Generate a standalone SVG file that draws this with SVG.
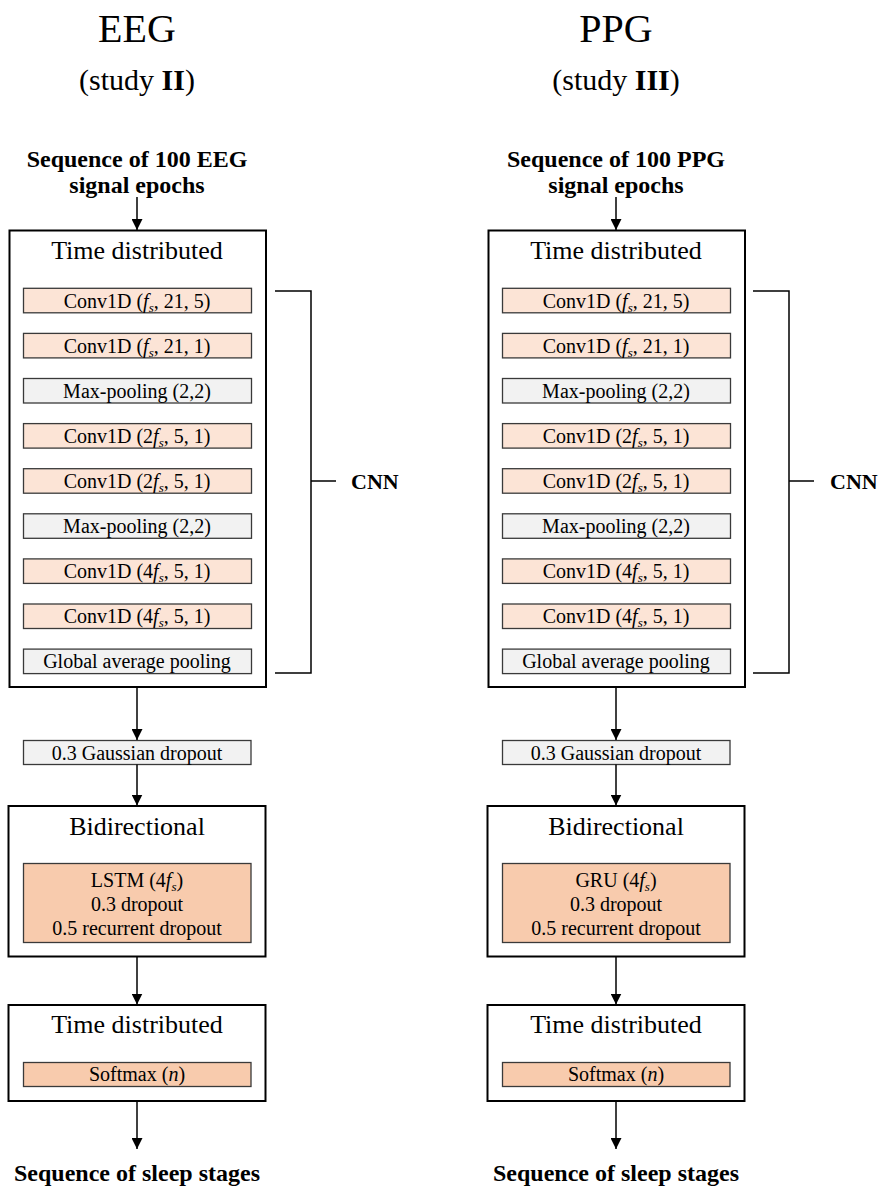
<svg xmlns="http://www.w3.org/2000/svg" width="880" height="1187" viewBox="0 0 880 1187">
  <style>
    text { font-family: "Liberation Serif", "Times New Roman", serif; fill: #000; text-anchor: middle; }
    .title { font-size: 40px; }
    .study { font-size: 30px; }
    .io { font-size: 24px; font-weight: bold; }
    .head { font-size: 26px; }
    .lbl { font-size: 20px; }
    .cnn { font-size: 22px; font-weight: bold; text-anchor: start; }
    .outer { fill: #fff; stroke: #000; stroke-width: 2; }
    .conv { fill: #FCE4D6; stroke: #3a3a3a; stroke-width: 1.3; }
    .pool { fill: #F2F2F2; stroke: #3a3a3a; stroke-width: 1.3; }
    .rnn { fill: #F8CBAD; stroke: #3a3a3a; stroke-width: 1.3; }
    .wire { fill: none; stroke: #000; stroke-width: 1.5; }
    .brace { fill: none; stroke: #000; stroke-width: 1.5; }
    .it { font-style: italic; }
    .sub { font-style: italic; font-size: 13px; }
  </style>
  <defs>
    <marker id="arrow" viewBox="0 0 10 10" refX="10" refY="5" markerWidth="11" markerHeight="11" markerUnits="userSpaceOnUse" orient="auto">
      <path d="M0,0 L10,5 L0,10 z" fill="#000"/>
    </marker>
  </defs>

  <!-- EEG model (left) -->
  <g id="eeg">
    <g id="eeg-title">
      <text class="title" x="137" y="42">EEG</text>
      <text class="study" x="137" y="90">(study <tspan font-weight="bold">II</tspan>)</text>
    </g>
    <g id="eeg-input">
      <text class="io" x="137" y="167">Sequence of 100 EEG</text>
      <text class="io" x="137" y="193">signal epochs</text>
    </g>
    <g id="eeg-cnn">
      <rect class="outer" x="9.5" y="230.5" width="256.5" height="456.5"/>
      <text class="head" x="137" y="259">Time distributed</text>
      <rect class="conv" x="23.5" y="288.3" width="228" height="24.5"/>
      <text class="lbl" x="137" y="307.5">Conv1D (<tspan class="it">f</tspan><tspan class="sub" dy="4">s</tspan><tspan dy="-4">, 21, 5)</tspan></text>
      <rect class="conv" x="23.5" y="333.4" width="228" height="24.5"/>
      <text class="lbl" x="137" y="352.6">Conv1D (<tspan class="it">f</tspan><tspan class="sub" dy="4">s</tspan><tspan dy="-4">, 21, 1)</tspan></text>
      <rect class="pool" x="23.5" y="378.5" width="228" height="24.5"/>
      <text class="lbl" x="137" y="397.7">Max-pooling (2,2)</text>
      <rect class="conv" x="23.5" y="423.6" width="228" height="24.5"/>
      <text class="lbl" x="137" y="442.8">Conv1D (2<tspan class="it">f</tspan><tspan class="sub" dy="4">s</tspan><tspan dy="-4">, 5, 1)</tspan></text>
      <rect class="conv" x="23.5" y="468.7" width="228" height="24.5"/>
      <text class="lbl" x="137" y="487.9">Conv1D (2<tspan class="it">f</tspan><tspan class="sub" dy="4">s</tspan><tspan dy="-4">, 5, 1)</tspan></text>
      <rect class="pool" x="23.5" y="513.8" width="228" height="24.5"/>
      <text class="lbl" x="137" y="533">Max-pooling (2,2)</text>
      <rect class="conv" x="23.5" y="558.9" width="228" height="24.5"/>
      <text class="lbl" x="137" y="578.1">Conv1D (4<tspan class="it">f</tspan><tspan class="sub" dy="4">s</tspan><tspan dy="-4">, 5, 1)</tspan></text>
      <rect class="conv" x="23.5" y="604" width="228" height="24.5"/>
      <text class="lbl" x="137" y="623.2">Conv1D (4<tspan class="it">f</tspan><tspan class="sub" dy="4">s</tspan><tspan dy="-4">, 5, 1)</tspan></text>
      <rect class="pool" x="23.5" y="649.1" width="228" height="24.5"/>
      <text class="lbl" x="137" y="668.3">Global average pooling</text>
    </g>
    <g id="eeg-cnn-brace">
      <path class="brace" d="M275,291 H311 V673 H275 M311,481 H336"/>
      <text class="cnn" x="351" y="489">CNN</text>
    </g>
    <g id="eeg-dropout">
      <rect class="pool" x="23.5" y="740.5" width="227.5" height="24"/>
      <text class="lbl" x="137" y="759.5">0.3 Gaussian dropout</text>
    </g>
    <g id="eeg-bidir">
      <rect class="outer" x="8.5" y="806" width="257" height="150.5"/>
      <text class="head" x="137" y="835">Bidirectional</text>
      <rect class="rnn" x="23.5" y="863.5" width="227.5" height="79"/>
      <text class="lbl" x="137" y="886.5">LSTM (4<tspan class="it">f</tspan><tspan class="sub" dy="4">s</tspan><tspan dy="-4">)</tspan></text>
      <text class="lbl" x="137" y="910.5">0.3 dropout</text>
      <text class="lbl" x="137" y="934.5">0.5 recurrent dropout</text>
    </g>
    <g id="eeg-output">
      <rect class="outer" x="8.5" y="1005" width="257" height="96"/>
      <text class="head" x="137" y="1033">Time distributed</text>
      <rect class="rnn" x="23.5" y="1062.5" width="227.5" height="24"/>
      <text class="lbl" x="137" y="1081">Softmax (<tspan class="it">n</tspan>)</text>
    </g>
    <g id="eeg-result">
      <text class="io" x="137" y="1181">Sequence of sleep stages</text>
    </g>
  </g>

  <!-- PPG model (right) -->
  <g id="ppg">
    <g id="ppg-title">
      <text class="title" x="616" y="42">PPG</text>
      <text class="study" x="616" y="90">(study <tspan font-weight="bold">III</tspan>)</text>
    </g>
    <g id="ppg-input">
      <text class="io" x="616" y="167">Sequence of 100 PPG</text>
      <text class="io" x="616" y="193">signal epochs</text>
    </g>
    <g id="ppg-cnn">
      <rect class="outer" x="488.5" y="230.5" width="256.5" height="456.5"/>
      <text class="head" x="616" y="259">Time distributed</text>
      <rect class="conv" x="502.5" y="288.3" width="228" height="24.5"/>
      <text class="lbl" x="616" y="307.5">Conv1D (<tspan class="it">f</tspan><tspan class="sub" dy="4">s</tspan><tspan dy="-4">, 21, 5)</tspan></text>
      <rect class="conv" x="502.5" y="333.4" width="228" height="24.5"/>
      <text class="lbl" x="616" y="352.6">Conv1D (<tspan class="it">f</tspan><tspan class="sub" dy="4">s</tspan><tspan dy="-4">, 21, 1)</tspan></text>
      <rect class="pool" x="502.5" y="378.5" width="228" height="24.5"/>
      <text class="lbl" x="616" y="397.7">Max-pooling (2,2)</text>
      <rect class="conv" x="502.5" y="423.6" width="228" height="24.5"/>
      <text class="lbl" x="616" y="442.8">Conv1D (2<tspan class="it">f</tspan><tspan class="sub" dy="4">s</tspan><tspan dy="-4">, 5, 1)</tspan></text>
      <rect class="conv" x="502.5" y="468.7" width="228" height="24.5"/>
      <text class="lbl" x="616" y="487.9">Conv1D (2<tspan class="it">f</tspan><tspan class="sub" dy="4">s</tspan><tspan dy="-4">, 5, 1)</tspan></text>
      <rect class="pool" x="502.5" y="513.8" width="228" height="24.5"/>
      <text class="lbl" x="616" y="533">Max-pooling (2,2)</text>
      <rect class="conv" x="502.5" y="558.9" width="228" height="24.5"/>
      <text class="lbl" x="616" y="578.1">Conv1D (4<tspan class="it">f</tspan><tspan class="sub" dy="4">s</tspan><tspan dy="-4">, 5, 1)</tspan></text>
      <rect class="conv" x="502.5" y="604" width="228" height="24.5"/>
      <text class="lbl" x="616" y="623.2">Conv1D (4<tspan class="it">f</tspan><tspan class="sub" dy="4">s</tspan><tspan dy="-4">, 5, 1)</tspan></text>
      <rect class="pool" x="502.5" y="649.1" width="228" height="24.5"/>
      <text class="lbl" x="616" y="668.3">Global average pooling</text>
    </g>
    <g id="ppg-cnn-brace">
      <path class="brace" d="M753,291 H789 V673 H753 M789,481 H814"/>
      <text class="cnn" x="830" y="489">CNN</text>
    </g>
    <g id="ppg-dropout">
      <rect class="pool" x="502.5" y="740.5" width="227.5" height="24"/>
      <text class="lbl" x="616" y="759.5">0.3 Gaussian dropout</text>
    </g>
    <g id="ppg-bidir">
      <rect class="outer" x="487.5" y="806" width="257" height="150.5"/>
      <text class="head" x="616" y="835">Bidirectional</text>
      <rect class="rnn" x="502.5" y="863.5" width="227.5" height="79"/>
      <text class="lbl" x="616" y="886.5">GRU (4<tspan class="it">f</tspan><tspan class="sub" dy="4">s</tspan><tspan dy="-4">)</tspan></text>
      <text class="lbl" x="616" y="910.5">0.3 dropout</text>
      <text class="lbl" x="616" y="934.5">0.5 recurrent dropout</text>
    </g>
    <g id="ppg-output">
      <rect class="outer" x="487.5" y="1005" width="257" height="96"/>
      <text class="head" x="616" y="1033">Time distributed</text>
      <rect class="rnn" x="502.5" y="1062.5" width="227.5" height="24"/>
      <text class="lbl" x="616" y="1081">Softmax (<tspan class="it">n</tspan>)</text>
    </g>
    <g id="ppg-result">
      <text class="io" x="616" y="1181">Sequence of sleep stages</text>
    </g>
  </g>

  <!-- connectors -->
  <g id="connectors">
    <line class="wire" x1="137" y1="197" x2="137" y2="230" marker-end="url(#arrow)"/>
    <line class="wire" x1="137" y1="687" x2="137" y2="740" marker-end="url(#arrow)"/>
    <line class="wire" x1="137" y1="764.5" x2="137" y2="805.5" marker-end="url(#arrow)"/>
    <line class="wire" x1="137" y1="956.5" x2="137" y2="1004.5" marker-end="url(#arrow)"/>
    <line class="wire" x1="137" y1="1101" x2="137" y2="1149" marker-end="url(#arrow)"/>
    <line class="wire" x1="616" y1="197" x2="616" y2="230" marker-end="url(#arrow)"/>
    <line class="wire" x1="616" y1="687" x2="616" y2="740" marker-end="url(#arrow)"/>
    <line class="wire" x1="616" y1="764.5" x2="616" y2="805.5" marker-end="url(#arrow)"/>
    <line class="wire" x1="616" y1="956.5" x2="616" y2="1004.5" marker-end="url(#arrow)"/>
    <line class="wire" x1="616" y1="1101" x2="616" y2="1149" marker-end="url(#arrow)"/>
  </g>
</svg>
